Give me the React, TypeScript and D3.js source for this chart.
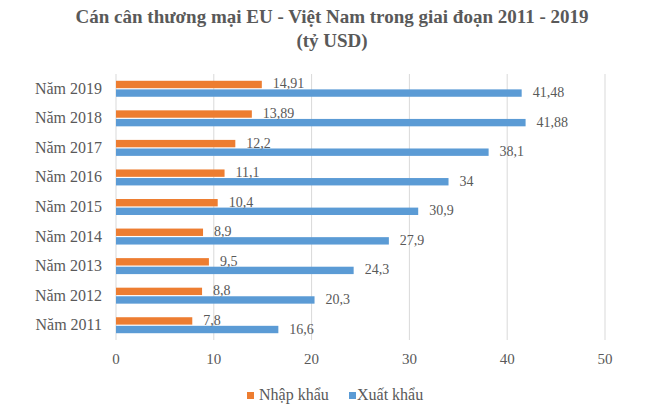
import React from 'react';
import * as d3 from 'd3';

const years = ['Năm 2011', 'Năm 2012', 'Năm 2013', 'Năm 2014', 'Năm 2015', 'Năm 2016', 'Năm 2017', 'Năm 2018', 'Năm 2019'];
const imports = [7.8, 8.8, 9.5, 8.9, 10.4, 11.1, 12.2, 13.89, 14.91];
const exports = [16.6, 20.3, 24.3, 27.9, 30.9, 34, 38.1, 41.88, 41.48];
const xTicks = [0, 10, 20, 30, 40, 50];
const seriesNames = ['Nhập khẩu', 'Xuất khẩu'];

const ORANGE = '#ED7D31';
const BLUE = '#5B9BD5';
const TEXT = '#595959';
const FONT = "'Liberation Serif', 'Times New Roman', serif";

const fmt = (v: number) => String(v).replace('.', ',');

export default function App() {
  const width = 650;
  const height = 418;
  const margin = { top: 74, right: 45, bottom: 78, left: 116 };

  const x = d3.scaleLinear()
    .domain([0, 50])
    .range([margin.left, 605]);

  // top row is the latest year
  const y = d3.scaleBand<string>()
    .domain([...years].reverse())
    .range([margin.top, 340]);

  const band = y.bandwidth();
  const barH = band * 0.25;

  return (
    <div style={{ position: 'absolute', left: 0, top: 0 }}>
      <svg width={width} height={height} style={{ display: 'block', background: '#fff', fontFamily: FONT }}>
        <text x={332} y={23} textAnchor="middle" fontSize={19} fontWeight="bold" fill={TEXT}>
          Cán cân thương mại EU - Việt Nam trong giai đoạn 2011 - 2019
        </text>
        <text x={332} y={47} textAnchor="middle" fontSize={19} fontWeight="bold" fill={TEXT}>
          (tỷ USD)
        </text>

        {xTicks.map(t => (
          <g key={t}>
            <line x1={x(t)} x2={x(t)} y1={margin.top} y2={340} stroke="#d9d9d9" strokeWidth={1} />
            <text x={x(t)} y={364} textAnchor="middle" fontSize={15} fill={TEXT}>{t}</text>
          </g>
        ))}

        {years.map((yr, i) => {
          const mid = (y(yr) ?? 0) + band / 2;
          const oy = mid - barH - 0.6;
          const by = mid + 0.6;
          return (
            <g key={yr}>
              <text x={102} y={mid + 5} textAnchor="end" fontSize={16} fill={TEXT}>{yr}</text>
              <rect x={x(0)} y={oy} width={x(imports[i]) - x(0)} height={barH} fill={ORANGE} />
              <rect x={x(0)} y={by} width={x(exports[i]) - x(0)} height={barH} fill={BLUE} />
              <text x={x(imports[i]) + 11} y={oy + barH / 2 + 4} fontSize={14} fill={TEXT}>{fmt(imports[i])}</text>
              <text x={x(exports[i]) + 11} y={by + barH / 2 + 4} fontSize={14} fill={TEXT}>{fmt(exports[i])}</text>
            </g>
          );
        })}

        <g>
          <rect x={247} y={392} width={7} height={7} fill={ORANGE} />
          <text x={259} y={400} fontSize={16} fill={TEXT}>{seriesNames[0]}</text>
          <rect x={349} y={392} width={7} height={7} fill={BLUE} />
          <text x={357} y={400} fontSize={16} fill={TEXT}>{seriesNames[1]}</text>
        </g>
      </svg>
    </div>
  );
}
